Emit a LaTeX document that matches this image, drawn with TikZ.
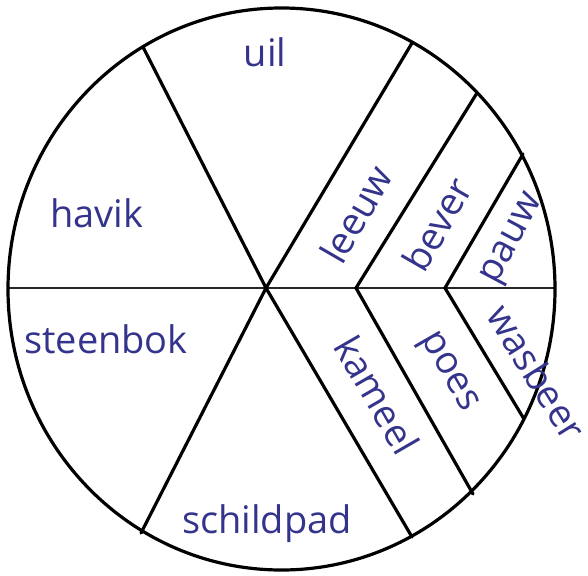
\documentclass[tikz,border=0pt]{standalone}
\usepackage{fontspec}
\setmainfont{Open Sans}
\usepackage{xcolor}
\definecolor{labelblue}{RGB}{52,52,140}
\tikzset{
  wheelline/.style = {
    line width=3.2pt,
    line cap=round
  },
  midline/.style = {
    line width=2.4pt,
    draw=black!85
  },
  animal/.style = {
    text=labelblue,
    font=\fontsize{38}{40}\selectfont,
    inner sep=0pt
  }
}

\begin{document}
\begin{tikzpicture}[x=1pt,y=-1pt]
    \useasboundingbox (0,0) rectangle (588,575);
    % points inside the wheel
    \coordinate (hub) at (266,288);
    \coordinate (kinkA) at (356,288);
    \coordinate (kinkB) at (445,288);
    % points on the rim
    \coordinate (rimW) at (8,288);
    \coordinate (rimE) at (555,288);
    \coordinate (rimNW) at (143,47);
    \coordinate (rimNE) at (412,43);
    \coordinate (rimSW) at (141,533);
    \coordinate (rimSE) at (412,537);
    \coordinate (rimBever) at (477,93);
    \coordinate (rimPauw) at (523,154);
    \coordinate (rimPoes) at (473,494);
    \coordinate (rimWasbeer) at (524,419);
    \draw[midline] (rimW) -- (rimE);
    \draw[wheelline] (rimNW) -- (hub) -- (rimSE);
    \draw[wheelline] (rimNE) -- (hub) -- (rimSW);
    \draw[wheelline] (rimBever) -- (kinkA) -- (rimPoes);
    \draw[wheelline] (rimPauw) -- (kinkB) -- (rimWasbeer);
    \draw[wheelline] (281.5,289) ellipse [x radius=273.5pt, y radius=281pt];
    \node[animal, anchor=base] (uil) at (265,67) {uil};
    \node[animal, anchor=base] (havik) at (97,227) {havik};
    \node[animal, anchor=base] (steenbok) at (106,353) {steenbok};
    \node[animal, anchor=base] (schildpad) at (267,533) {schildpad};
    \node[animal, rotate=60] (leeuw) at (356,214) {leeuw};
    \node[animal, rotate=60] (bever) at (437,224) {bever};
    \node[animal, rotate=62] (pauw) at (514,240) {pauw};
    \node[animal, rotate=-60] (kameel) at (377,395) {kameel};
    \node[animal, rotate=-60] (poes) at (447,373) {poes};
    \node[animal, rotate=-58] (wasbeer) at (537,372) {wasbeer};
  \end{tikzpicture}
\end{document}
